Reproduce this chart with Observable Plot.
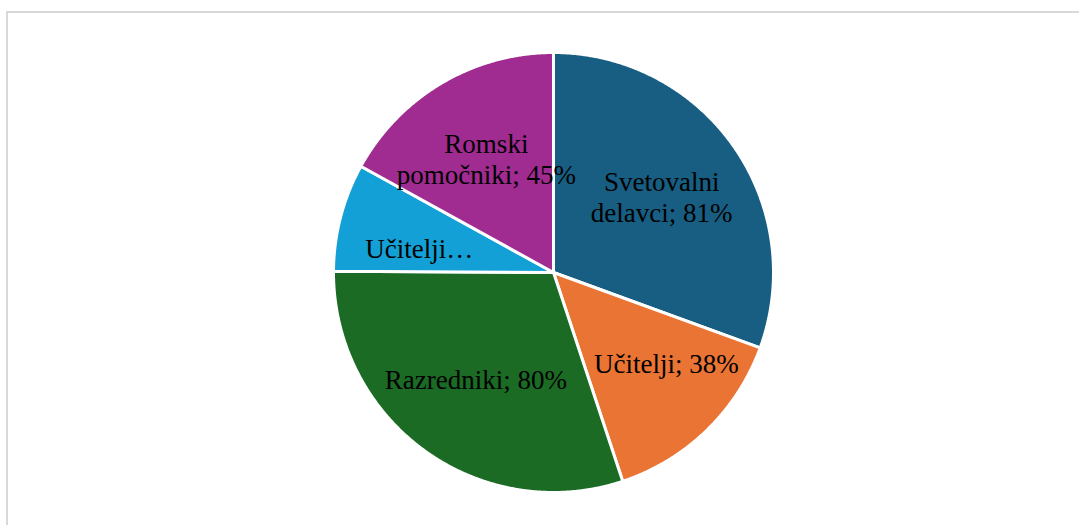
<!DOCTYPE html>
<html>
<head>
<meta charset="utf-8">
<script src="https://cdn.jsdelivr.net/npm/d3@7"></script>
<script src="https://cdn.jsdelivr.net/npm/@observablehq/plot@0.6"></script>
<style>
  html, body { margin: 0; padding: 0; background: #fff; overflow: hidden; }
  #wrap { position: relative; width: 1079px; height: 525px; }
  #frame { position: absolute; left: 6px; top: 11px; width: 1200px; height: 700px; border: 2px solid #d9d9d9; box-sizing: border-box; }
  #chart { position: absolute; left: 0; top: 0; }
</style>
</head>
<body>
<div id="wrap"><div id="frame"></div><div id="chart"></div></div>
<script>
// Data (clockwise from 12 o'clock)
const categories = ["Svetovalni delavci", "Učitelji", "Razredniki", "Učitelji…", "Romski pomočniki"];
const labelText  = ["Svetovalni\ndelavci", "Učitelji", "Razredniki", "Učitelji…", "Romski\npomočniki"];
const values     = [81, 38, 80, 21, 45];
const showValue  = [true, true, true, false, true];
const colors     = ["#175e82", "#e97434", "#1b6b25", "#12a0d6", "#a02b91"];

const pie = d3.pie().sort(null).value(d => d.value)(
  categories.map((name, i) => ({name, value: values[i], i}))
);

// Build slice outlines in unit coordinates (angle 0 = top, clockwise)
const slicePts = [];
for (const p of pie) {
  const name = p.data.name;
  slicePts.push({name, x: 0, y: 0});
  const steps = Math.max(2, Math.ceil((p.endAngle - p.startAngle) / 0.005));
  for (let k = 0; k <= steps; k++) {
    const a = p.startAngle + (p.endAngle - p.startAngle) * k / steps;
    slicePts.push({name, x: Math.sin(a), y: Math.cos(a)});
  }
  slicePts.push({name, x: 0, y: 0});
}

const cx = 553, cy = 272, R = 220;
const fontSize = 27, lineHeight = 1.12, font = `${fontSize}px "Liberation Serif"`;

// "Best fit" placement: the label box closest to the slice's preferred point that fits inside it
const ctx = document.createElement("canvas").getContext("2d");
ctx.font = font;
function inside(px, py, p) { // px, py in pixels relative to centre, y down
  const r = Math.hypot(px, py);
  if (r > R * 0.98) return false;
  let a = Math.atan2(px, -py); if (a < 0) a += 2 * Math.PI;
  const pad = 3 / Math.max(r, 1);
  return a >= p.startAngle + pad && a <= p.endAngle - pad;
}
const labels = pie.map(p => {
  const i = p.data.i;
  const text = showValue[i] ? `${labelText[i]}; ${values[i]}%` : labelText[i];
  const lines = text.split("\n");
  const w = d3.max(lines, l => ctx.measureText(l).width) + 4;
  const h = lines.length * fontSize * lineHeight;
  const mid = (p.startAngle + p.endAngle) / 2;
  const pref = [0.6 * R * Math.sin(mid), -0.6 * R * Math.cos(mid)];
  let best = null, bestD = Infinity;
  for (let k = 0; k <= 60; k++) {
    const a = p.startAngle + (p.endAngle - p.startAngle) * k / 60;
    for (let rr = 0.2; rr <= 0.9; rr += 0.01) {
      const x = rr * R * Math.sin(a), y = -rr * R * Math.cos(a);
      const ok = [[-1,-1],[1,-1],[1,1],[-1,1]].every(([sx, sy]) => inside(x + sx * w / 2, y + sy * h / 2, p));
      if (!ok) continue;
      const d = Math.hypot(x - pref[0], y - pref[1]);
      if (d < bestD) { bestD = d; best = [x, y]; }
    }
  }
  if (!best) best = pref;
  return {x: best[0] / R, y: -best[1] / R, text};
});

const chart = Plot.plot({
  width: 1079,
  height: 525,
  margin: 0,
  axis: null,
  x: {domain: [-1, 1], range: [cx - R, cx + R]},
  y: {domain: [-1, 1], range: [cy + R, cy - R]},
  color: {domain: categories, range: colors},
  marks: [
    Plot.line(slicePts, {x: "x", y: "y", z: "name", fill: "name", stroke: "white", strokeWidth: 3, strokeLinejoin: "round", curve: "linear"}),
    Plot.text(labels, {x: "x", y: "y", text: "text", fontSize, fontFamily: "Liberation Serif", fill: "black", lineHeight, textAnchor: "middle"})
  ]
});
chart.style.background = "transparent";
document.getElementById("chart").appendChild(chart);
</script>
</body>
</html>
